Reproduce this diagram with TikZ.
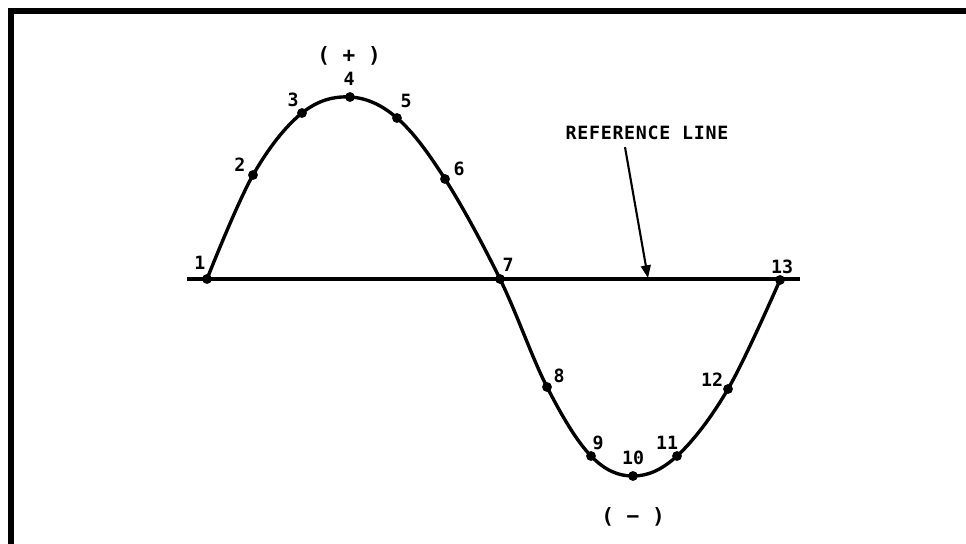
\documentclass[tikz,border=0pt]{standalone}
\usepackage{fontspec}
\setmonofont{DejaVu Sans Mono}
\usetikzlibrary{arrows.meta,calc}

\begin{document}
\begin{tikzpicture}[
  x=0.025cm, y=-0.025cm,
  font=\ttfamily\bfseries\fontsize{13}{13}\selectfont,
  wave/.style={line width=2.4pt, line join=round},
  refl/.style={line width=2.3pt},
  dot/.style={circle, fill, inner sep=0pt, minimum size=7pt},
  lbl/.style={inner sep=0pt},
  sgn/.style={inner sep=0pt, font=\ttfamily\bfseries\fontsize{15}{15}\selectfont},
  fl/.style={-{Triangle[length=9pt, width=7pt]}, line width=1.5pt}
]
\useasboundingbox (0,0) rectangle (966,544);
\draw[line width=4.3pt] (11,544) -- (11,11) -- (966,11);

% points on the wave
\foreach \n/\x/\y in {1/207/279, 2/253/175, 3/302/113, 4/350/97, 5/397/118,
  6/445/179, 7/500/279, 8/547/387, 9/591/456, 10/633/476, 11/677/456,
  12/728/389, 13/780/280}
  \coordinate (p\n) at (\x,\y);

\coordinate (rl0) at (187,279);
\coordinate (rl1) at (800,279);
\draw[refl] (rl0) -- (rl1);

\draw[wave] plot[smooth, tension=0.6] coordinates {(p1) (p2) (p3) (p4) (p5)
  (p6) (p7) (p8) (p9) (p10) (p11) (p12) (p13)};
\foreach \n in {1,...,13} \node[dot] at (p\n) {};

% point numbers
\foreach \n/\x/\y in {1/200/263, 2/240/165, 3/293/100, 4/349/79, 5/406/101,
  6/459/169, 7/508/265, 8/559/376, 9/598/443, 10/633/458, 11/667/443,
  12/712/380, 13/782/267}
  \node[lbl] (n\n) at (\x,\y) {\n};

\node[sgn] (plus) at (349,56) {( + )};
\node[sgn] (minus) at (633,517) {( − )};

\node[lbl] (reflbl) at (647,133) {\addfontfeature{LetterSpace=4}REFERENCE LINE};
\coordinate (rltip) at (648,278);
\draw[fl] ($(reflbl.south)+(-22,7)$) -- (rltip);
\end{tikzpicture}
\end{document}
